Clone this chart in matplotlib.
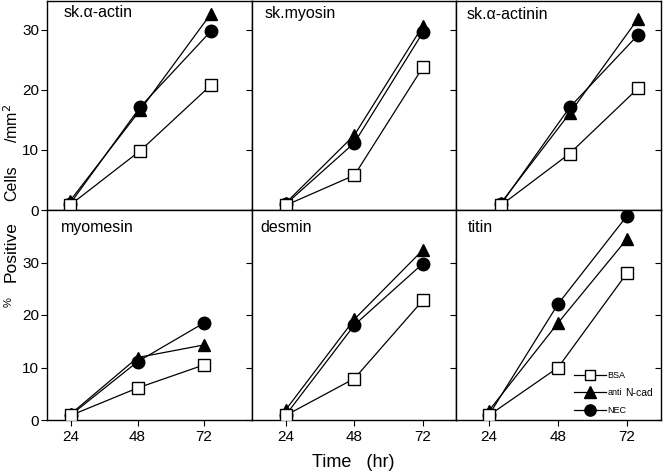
import matplotlib
matplotlib.use('Agg')
import matplotlib.pyplot as plt

plt.rcParams['font.family'] = ['Liberation Sans', 'DejaVu Sans']

hours = [24, 48, 72]
panels = ['sk.\u03b1-actin', 'sk.myosin', 'sk.\u03b1-actinin',
          'myomesin', 'desmin', 'titin']

# cells/mm2 (top row) and % positive (bottom row)
bsa = [[0.8, 9.9, 20.8],
       [0.8, 5.8, 23.8],
       [0.8, 9.4, 20.3],
       [0.9, 6.1, 10.5],
       [0.9, 7.9, 22.8],
       [0.9, 10.0, 28.0]]
anti_ncad = [[1.5, 16.7, 32.7],
             [1.2, 12.5, 30.7],
             [1.2, 16.1, 31.9],
             [1.2, 11.9, 14.3],
             [2.0, 19.2, 32.4],
             [1.8, 18.5, 34.5]]
nec = [[1.0, 17.2, 29.8],
       [1.0, 11.2, 29.6],
       [1.0, 17.1, 29.2],
       [1.0, 11.1, 18.5],
       [1.0, 18.1, 29.8],
       [1.0, 22.1, 38.9]]

W, H = 664, 473
fig = plt.figure(figsize=(W / 100, H / 100), dpi=100)

# panel boxes in pixels: left, right, top, bottom
lefts = [47, 252, 456]
rights = [252, 456, 661]
rows = [(1, 210), (210, 420)]
xlims = [(16.2, 86), (12.1, 83.6), (8.2, 80),
         (15.3, 89.3), (12.1, 83.6), (12.5, 83.8)]
ylims = [(0, 34.83), (0, 40)]
title_pos = [(0.083, 0.925), (0.064, 0.917), (0.052, 0.914),
             (0.068, 0.897), (0.043, 0.897), (0.057, 0.895)]

axes = []
for i in range(6):
    r, c = divmod(i, 3)
    top, bot = rows[r]
    ax = fig.add_axes([lefts[c] / W, 1 - bot / H,
                       (rights[c] - lefts[c]) / W, (bot - top) / H])
    axes.append(ax)
    ax.plot(hours, bsa[i], color='black', lw=0.9, marker='s', ms=8,
            mfc='white', mec='black', mew=1.0, zorder=3, label='BSA')
    ax.plot(hours, anti_ncad[i], color='black', lw=0.9, marker='^', ms=9,
            mfc='black', mec='black', zorder=2, label='anti')
    ax.plot(hours, nec[i], color='black', lw=0.9, marker='o', ms=9,
            mfc='black', mec='black', zorder=2, label='NEC')
    ax.set_xlim(xlims[i])
    ax.set_ylim(ylims[r])
    ax.set_xticks(hours)
    ax.set_yticks([0, 10, 20, 30])
    ax.tick_params(direction='out', length=4, width=0.8, labelsize=11,
                   pad=3, color='black')
    if r == 0:
        ax.tick_params(axis='x', labelbottom=False)
    if c != 0:
        ax.tick_params(axis='y', labelleft=False)
    else:
        ax.tick_params(axis='y', pad=1.5)
    if c == 2:
        ax.tick_params(axis='y', right=True, which='both')
    for s in ax.spines.values():
        s.set_linewidth(1.0)
    ax.text(title_pos[i][0], title_pos[i][1], panels[i], transform=ax.transAxes,
            fontsize=11.5, ha='left', va='baseline')

# right-hand ticks point inward
for ax in (axes[2], axes[5]):
    for t in ax.yaxis.get_major_ticks():
        t.tick2line.set_marker(matplotlib.lines.TICKLEFT)
        t.tick2line.set_markersize(4)

leg = axes[5].legend(loc='lower left', bbox_to_anchor=(0.54, -0.01), frameon=False,
                     fontsize=6.5, handlelength=3.6, handletextpad=0.1,
                     labelspacing=0.95, borderpad=0.3, markerscale=0.9)
axes[5].text(625 / W, 1 - 393 / H, 'N-cad', transform=fig.transFigure,
             fontsize=7.5, ha='left', va='center')

fig.text(12 / W, 1 - 183 / H, 'Cells', rotation=90, fontsize=11.5,
         ha='center', va='center')
fig.text(12 / W, 1 - 123 / H, '/mm$^2$', rotation=90, fontsize=11.5,
         ha='center', va='center')
fig.text(11 / W, 1 - 252 / H, 'Positive', rotation=90, fontsize=12.5,
         ha='center', va='center')
fig.text(9 / W, 1 - 302 / H, '%', rotation=90, fontsize=8,
         ha='center', va='center')
fig.text(353 / W, 1 - 462 / H, 'Time   (hr)', fontsize=13,
         ha='center', va='center')

fig.savefig('out.png', dpi=100)
